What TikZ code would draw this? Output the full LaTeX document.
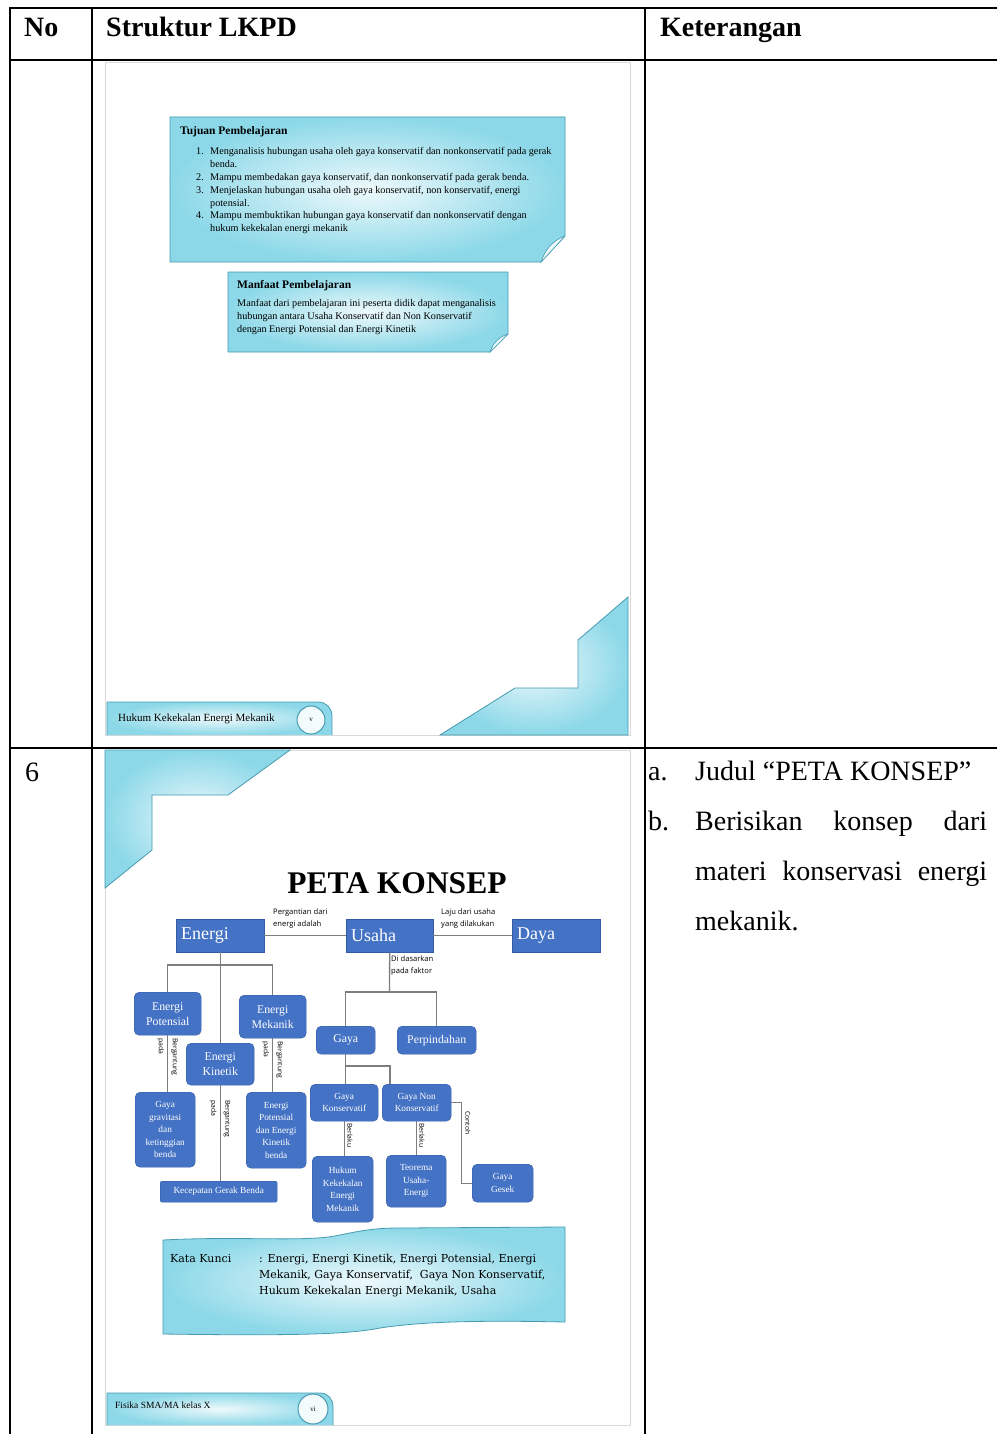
\documentclass[tikz,border=0pt]{standalone}
\usepackage{fontspec}
\setmainfont{Liberation Serif}
\newfontfamily\mapsans{Open Sans}
\newfontfamily\keyfont{DejaVu Serif}
\usepackage{xcolor}
\usepackage{tikz}
\usetikzlibrary{positioning}

\definecolor{petablue}{RGB}{68,114,196}
\definecolor{petaedge}{RGB}{52,90,165}
\definecolor{lkpdcyan}{RGB}{140,216,232}
\definecolor{lkpdteal}{RGB}{70,155,176}
\definecolor{connector}{RGB}{125,125,125}

\newcommand{\fsz}[2]{\fontsize{#1}{#2}\selectfont}

\tikzset{
  tableline/.style={line width=1.8pt},
  celltext/.style={anchor=base west,inner sep=0pt,font=\fsz{28}{50}},
  pagebox/.style={fill=white,draw=gray!30,line width=0.8pt},
  cyanpanel/.style={inner color=white!85!lkpdcyan,outer color=lkpdcyan,draw=lkpdteal,line width=0.8pt},
  topbox/.style={anchor=north west,fill=petablue,draw=petaedge,text=white,inner sep=5pt,
    align=left,minimum height=33pt,font=\fsz{18}{19}},
  mapbox/.style={anchor=north west,fill=petablue,draw=petaedge,text=white,rounded corners=5pt,
    inner sep=1pt,align=center,font=\fsz{11.8}{15}},
  minibox/.style={mapbox,font=\fsz{9.3}{12.5}},
  conn/.style={draw=connector,line width=1.3pt},
  edgelabel/.style={inner sep=0pt,align=left,font=\mapsans\fsz{7.6}{12}},
  sidelabel/.style={inner sep=0pt,align=left,rotate=-90,font=\mapsans\fsz{6.8}{14}},
  pagetext/.style={inner sep=0pt,align=left,anchor=north west}
}

\begin{document}
\begin{tikzpicture}[x=1pt,y=-1pt]
\useasboundingbox (0,0) rectangle (997,1434);
%\draw[help lines,step=50] (0,0) grid (997,1434);
\fill[white] (0,0) rectangle (997,1434);

% table
\draw[tableline] (10,1434) -- (10,8) -- (997,8);
\draw[tableline] (10,60) -- (997,60);
\draw[tableline] (10,748) -- (997,748);
\draw[tableline] (92,8) -- (92,1434);
\draw[tableline] (645,8) -- (645,1434);
\node[celltext,font=\bfseries\fsz{28}{30}] (hno) at (24,37) {No};
\node[celltext,font=\bfseries\fsz{28}{30}] (hstruktur) at (106,37) {Struktur LKPD};
\node[celltext,font=\bfseries\fsz{28}{30}] (hket) at (660,37) {Keterangan};

% row 1: tujuan dan manfaat
\draw[pagebox] (105,62) rectangle (630,735);
\shadedraw[cyanpanel] (170,117) -- (565,117) -- (565,236) -- (541,262) -- (170,262) -- cycle;
\filldraw[fill=white!85!lkpdcyan,draw=lkpdteal,line width=0.6pt] (565,236) -- (541,262)
  .. controls (545,250) and (552,241) .. (565,236);
\node[pagetext,font=\fsz{10.2}{12.8}] (tujuan) at (180,126) {\textbf{\fsz{11.5}{12}Tujuan Pembelajaran}\\[8pt]
  \hspace*{16pt}\makebox[14pt][l]{1.}Menganalisis hubungan usaha oleh gaya konservatif dan nonkonservatif pada gerak\\
  \hspace*{30pt}benda.\\
  \hspace*{16pt}\makebox[14pt][l]{2.}Mampu membedakan gaya konservatif, dan nonkonservatif pada gerak benda.\\
  \hspace*{16pt}\makebox[14pt][l]{3.}Menjelaskan hubungan usaha oleh gaya konservatif, non konservatif, energi\\
  \hspace*{30pt}potensial.\\
  \hspace*{16pt}\makebox[14pt][l]{4.}Mampu membuktikan hubungan gaya konservatif dan nonkonservatif dengan\\
  \hspace*{30pt}hukum kekekalan energi mekanik};

\shadedraw[cyanpanel] (228,272) -- (508,272) -- (508,334) -- (490,352) -- (228,352) -- cycle;
\filldraw[fill=white!85!lkpdcyan,draw=lkpdteal,line width=0.6pt] (508,334) -- (490,352)
  .. controls (493,343) and (499,337) .. (508,334);
\node[pagetext,font=\fsz{10.2}{12.6}] (manfaat) at (237,280) {\textbf{\fsz{11.5}{12}Manfaat Pembelajaran}\\[6pt]
  Manfaat dari pembelajaran ini peserta didik dapat menganalisis\\
  hubungan antara Usaha Konservatif dan Non Konservatif\\
  dengan Energi Potensial dan Energi Kinetik};

\shadedraw[cyanpanel] (628,735) -- (440,735) -- (515,688) -- (578,688) -- (578,640) -- (628,597) -- cycle;
\shadedraw[cyanpanel] (107,735) -- (107,702) -- (318,702) .. controls (326,702) and (332,708) .. (332,716) -- (332,735);
\filldraw[fill=white!90!lkpdcyan,draw=lkpdteal,line width=1pt] (311,720) circle (14);
\node[pagetext,anchor=base west,font=\fsz{11}{12}] (footA) at (118,721) {Hukum Kekekalan Energi Mekanik};
\node[font=\fsz{7}{8}] (pageA) at (311,720) {v};

% row 2: peta konsep
\node[celltext] (nomor) at (25,781) {6};
\draw[pagebox] (105,750) rectangle (630,1425);
\shadedraw[cyanpanel] (105,750) -- (290,750) -- (228,795) -- (152,795) -- (152,850) -- (105,888) -- cycle;
\node[anchor=base,inner sep=0pt,font=\bfseries\fsz{31.5}{32}] (judul) at (397,893) {PETA KONSEP};

\node[topbox,text width=78pt] (energi) at (176,919) {Energi};
\node[topbox,text width=77pt] (usaha) at (346,919) {Usaha};
\node[topbox,text width=78pt] (daya) at (512,919) {Daya};
\node[mapbox,minimum width=67pt,minimum height=43pt] (epot) at (134,992) {Energi\\Potensial};
\node[mapbox,minimum width=67pt,minimum height=43pt] (emek) at (239,995) {Energi\\Mekanik};
\node[mapbox,minimum width=68pt,minimum height=42pt] (ekin) at (186,1043) {Energi\\Kinetik};
\node[mapbox,minimum width=59pt,minimum height=28pt] (gaya) at (316,1026) {Gaya};
\node[mapbox,minimum width=79pt,minimum height=28pt] (perp) at (397,1026) {Perpindahan};
\node[minibox,minimum width=68pt,minimum height=37pt] (gkons) at (310,1084) {Gaya\\Konservatif};
\node[minibox,minimum width=69pt,minimum height=37pt] (gnon) at (382,1084) {Gaya Non\\Konservatif};
\node[minibox,minimum width=60pt,minimum height=75pt] (grav) at (135,1092) {Gaya\\gravitasi\\dan\\ketinggian\\benda};
\node[minibox,minimum width=60pt,minimum height=76pt] (epek) at (246,1092) {Energi\\Potensial\\dan Energi\\Kinetik\\benda};
\node[minibox,rounded corners=2pt,minimum width=117pt,minimum height=21pt] (kgb) at (160,1181) {Kecepatan Gerak Benda};
\node[minibox,minimum width=61pt,minimum height=66pt] (hukum) at (312,1156) {Hukum\\Kekekalan\\Energi\\Mekanik};
\node[minibox,minimum width=60pt,minimum height=52pt] (teorema) at (386,1155) {Teorema\\Usaha-\\Energi};
\node[minibox,minimum width=61pt,minimum height=38pt] (gesek) at (472,1164) {Gaya\\Gesek};

\draw[conn] (energi.east) -- (usaha.west);
\draw[conn] (usaha.east) -- (daya.west);
\draw[conn] (energi.south) -- (energi.south |- ekin.north);
\coordinate (ebranch) at (220,965);
\draw[conn] (epot.north) |- (ebranch) -| (emek.north);
\coordinate (ubranch) at (389.5,992);
\draw[conn] (usaha.south) -- (ubranch);
\draw[conn] (gaya.north) |- (ubranch) -| (perp.north);
\draw[conn] (gaya.south) -- (gaya.south |- gkons.north);
\coordinate (gbranch) at (345.5,1066);
\coordinate (gnonin) at (390,1084);
\draw[conn] (gbranch) -| (gnonin);
\draw[conn] (epot.south) -- (epot.south |- grav.north);
\draw[conn] (emek.south) -- (emek.south |- epek.north);
\draw[conn] (ekin.south) -- (ekin.south |- kgb.north);
\draw[conn] (gkons.south) -- (gkons.south |- hukum.north);
\draw[conn] (gnon.south) -- (gnon.south |- teorema.north);
\draw[conn] (gnon.east) -- ++(10,0) |- (gesek.west);

\node[edgelabel,anchor=south west] (lblganti) at (273,929) {Pergantian dari\\energi adalah};
\node[edgelabel,anchor=south west] (lbllaju) at (441,929) {Laju dari usaha\\yang dilakukan};
\node[edgelabel,anchor=north west] (lbldasar) at (391,956) {Di dasarkan\\pada faktor};
\node[sidelabel,anchor=west] (lblpot) at (167.5,1038) {Bergantung\\pada};
\node[sidelabel,anchor=west] (lblmek) at (272.5,1041) {Bergantung\\pada};
\node[sidelabel,anchor=west] (lblkin) at (220,1100) {Bergantung\\pada};
\node[sidelabel,anchor=south west] (lblkons) at (347,1123) {Berlaku};
\node[sidelabel,anchor=south west] (lblnon) at (419,1123) {Berlaku};
\node[sidelabel,anchor=south west] (lblcontoh) at (465,1111) {Contoh};

% kata kunci
\shadedraw[cyanpanel] (163,1240) .. controls (240,1236) and (300,1242) .. (335,1236)
  .. controls (360,1231) and (372,1228) .. (400,1228) -- (565,1227) -- (565,1322)
  .. controls (470,1320) and (420,1322) .. (380,1328)
  .. controls (350,1334) and (300,1336) .. (163,1334) -- cycle;
\node[anchor=base west,inner sep=0pt,font=\keyfont\fsz{11}{16}] (kata) at (170,1262) {Kata Kunci};
\node[anchor=base west,inner sep=0pt,font=\keyfont\fsz{11}{16}] (kunci) at (259,1262) {\parbox[t]{300pt}{%
  : Energi, Energi Kinetik, Energi Potensial, Energi\\
  Mekanik, Gaya Konservatif,\ \ Gaya Non Konservatif,\\
  Hukum Kekekalan Energi Mekanik, Usaha}};

\shadedraw[cyanpanel] (107,1425) -- (107,1393) -- (320,1393) .. controls (328,1393) and (333,1399) .. (333,1407) -- (333,1425);
\filldraw[fill=white!90!lkpdcyan,draw=lkpdteal,line width=1pt] (313,1409) circle (15);
\node[pagetext,anchor=base west,font=\fsz{9.5}{10}] (footB) at (115,1408) {Fisika SMA/MA kelas X};
\node[font=\fsz{7}{8}] (pageB) at (313,1409) {vi};

% keterangan
\node[celltext] (ka) at (648,780) {a.};
\node[celltext] (kjudul) at (695,780) {Judul “PETA KONSEP”};
\node[celltext] (kb) at (648,830) {b.};
\node[celltext] (kisi) at (695,830) {\parbox[t]{292pt}{\makebox[292pt][s]{Berisikan konsep dari}\\
  \makebox[292pt][s]{materi konservasi energi}\\mekanik.}};
\end{tikzpicture}
\end{document}
